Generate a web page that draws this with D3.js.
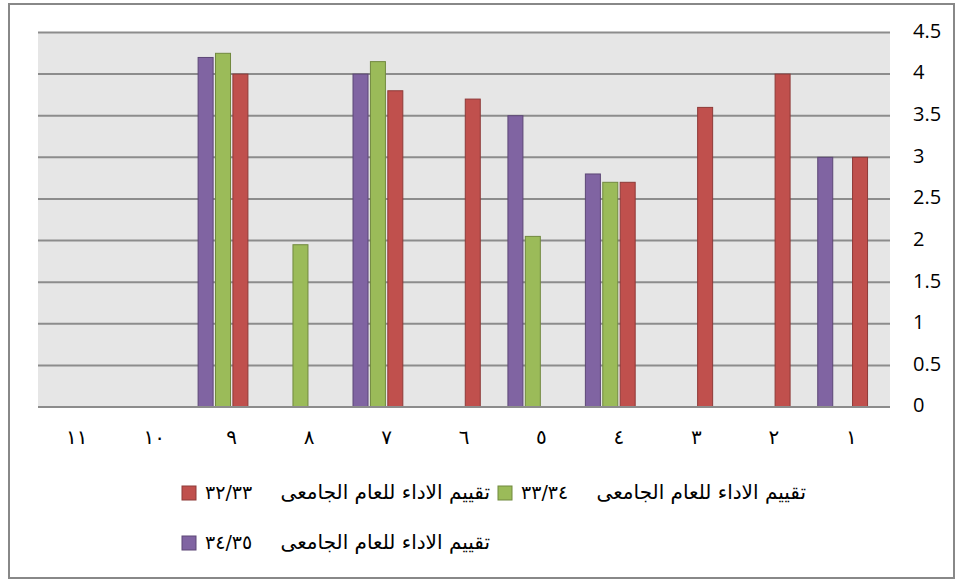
<!DOCTYPE html>
<html>
<head>
<meta charset="utf-8">
<script src="https://cdn.jsdelivr.net/npm/d3@7"></script>
<style>
  body { margin: 0; background: #fff; }
  svg { display: block; }
</style>
</head>
<body>
<div id="chart"></div>
<script>
// categories 1..11 (drawn right to left)
const categories = ["١", "٢", "٣", "٤", "٥", "٦", "٧", "٨", "٩", "١٠", "١١"];

// series values, one per category (null = no bar)
const values3233 = [3, 4, 3.6, 2.7, null, 3.7, 3.8, null, 4.0, null, null];
const values3334 = [null, null, null, 2.7, 2.05, null, 4.15, 1.95, 4.25, null, null];
const values3435 = [3, null, null, 2.8, 3.5, null, 4.0, null, 4.2, null, null];

const seriesNames = ["٣٢/٣٣", "٣٣/٣٤", "٣٤/٣٥"];
const legendTitle = "تقييم الاداء للعام الجامعى";
const yTicks = [0, 0.5, 1, 1.5, 2, 2.5, 3, 3.5, 4, 4.5];

const width = 963, height = 580;
const plot = { left: 38, right: 890, top: 32.5, bottom: 407 };

const series = [
    { name: seriesNames[0], values: values3233, fill: "#C0504D", stroke: "#8E3A38" },
    { name: seriesNames[1], values: values3334, fill: "#9BBB59", stroke: "#71893F" },
    { name: seriesNames[2], values: values3435, fill: "#8064A2", stroke: "#5C4776" }
];

const svg = d3.select("#chart")
              .append("svg")
              .attr("width", width)
              .attr("height", height);

// outer chart border
svg.append("rect")
   .attr("x", 9)
   .attr("y", 4)
   .attr("width", 945)
   .attr("height", 574)
   .attr("fill", "#fff")
   .attr("stroke", "#888")
   .attr("stroke-width", 2);

const xScale = d3.scaleBand()
                 .domain(categories.slice().reverse())
                 .range([plot.left, plot.right]);

// slot order inside a group, left to right (4th slot stays empty)
const slotScale = d3.scaleBand()
                    .domain([seriesNames[2], seriesNames[1], seriesNames[0]])
                    .range([4, 4 + 3 * 17.4]);

const yScale = d3.scaleLinear()
                 .domain([0, 4.5])
                 .range([plot.bottom, plot.top]);

// plot background
svg.append("rect")
   .attr("x", plot.left)
   .attr("y", plot.top)
   .attr("width", plot.right - plot.left)
   .attr("height", plot.bottom - plot.top)
   .attr("fill", "#E6E6E6");

// gridlines
svg.append("g")
   .selectAll("line")
   .data(yTicks)
   .join("line")
   .attr("x1", plot.left)
   .attr("x2", plot.right)
   .attr("y1", d => yScale(d))
   .attr("y2", d => yScale(d))
   .attr("stroke", "#8C8C8C")
   .attr("stroke-width", 2);

// bars
const bars = [];
series.forEach(s => {
    s.values.forEach((v, i) => {
        if (v != null) bars.push({ cat: categories[i], value: v, s: s });
    });
});

svg.append("g")
   .selectAll("rect")
   .data(bars)
   .join("rect")
   .attr("x", d => xScale(d.cat) + slotScale(d.s.name) + 1.2)
   .attr("y", d => yScale(d.value))
   .attr("width", slotScale.bandwidth() - 2.4)
   .attr("height", d => yScale(0) - yScale(d.value))
   .attr("fill", d => d.s.fill)
   .attr("stroke", d => d.s.stroke)
   .attr("stroke-width", 1);

// bottom axis line
svg.append("line")
   .attr("x1", plot.left)
   .attr("x2", plot.right)
   .attr("y1", plot.bottom)
   .attr("y2", plot.bottom)
   .attr("stroke", "#8C8C8C")
   .attr("stroke-width", 2);

// x labels
svg.append("g")
   .selectAll("text")
   .data(categories)
   .join("text")
   .attr("x", d => xScale(d) + xScale.bandwidth() / 2)
   .attr("y", 438)
   .attr("text-anchor", "middle")
   .attr("dominant-baseline", "middle")
   .style("font-family", "'DejaVu Sans', sans-serif")
   .style("font-size", "20px")
   .attr("fill", "#000")
   .text(d => d);

// y labels on the right
svg.append("g")
   .selectAll("text")
   .data(yTicks)
   .join("text")
   .attr("x", 913)
   .attr("y", d => yScale(d))
   .attr("dominant-baseline", "middle")
   .style("font-family", "'Open Sans', sans-serif")
   .style("font-size", "20px")
   .attr("fill", "#000")
   .text(d => d);

// legend
const legendItems = [
    { s: series[0], x: 182, y: 493 },
    { s: series[1], x: 498, y: 493 },
    { s: series[2], x: 182, y: 543 }
];

const legend = svg.append("g");

legend.selectAll("rect")
      .data(legendItems)
      .join("rect")
      .attr("x", d => d.x)
      .attr("y", d => d.y - 7)
      .attr("width", 14)
      .attr("height", 14)
      .attr("fill", d => d.s.fill)
      .attr("stroke", d => d.s.stroke)
      .attr("stroke-width", 1);

legend.selectAll("text.num")
      .data(legendItems)
      .join("text")
      .attr("class", "num")
      .attr("x", d => d.x + 23)
      .attr("y", d => d.y)
      .attr("dominant-baseline", "middle")
      .style("font-family", "'DejaVu Sans', sans-serif")
      .style("font-size", "19px")
      .text(d => d.s.name);

legend.selectAll("text.title")
      .data(legendItems)
      .join("text")
      .attr("class", "title")
      .attr("x", d => d.x + 308)
      .attr("y", d => d.y)
      .attr("text-anchor", "end")
      .attr("dominant-baseline", "middle")
      .style("font-family", "'DejaVu Sans', sans-serif")
      .style("font-size", "20px")
      .text(legendTitle);
</script>
</body>
</html>
